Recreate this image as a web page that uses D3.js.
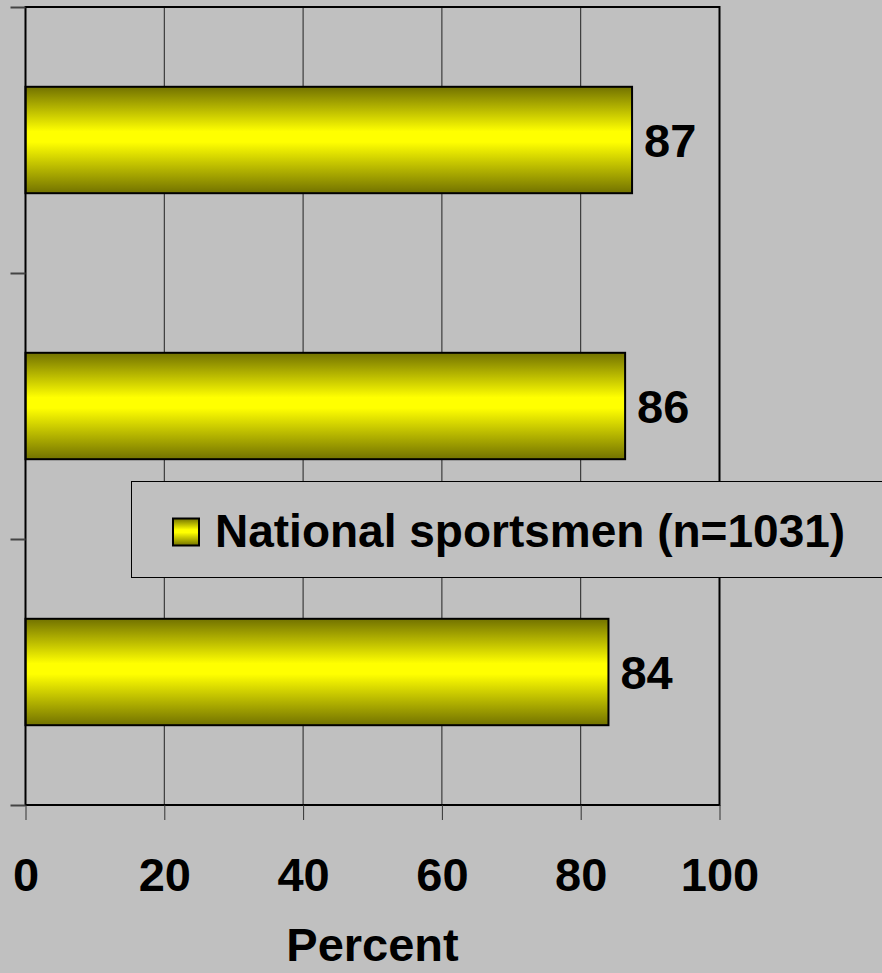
<!DOCTYPE html>
<html>
<head>
<meta charset="utf-8">
<script src="https://cdn.jsdelivr.net/npm/d3@7"></script>
<style>
  body { margin: 0; background: #c0c0c0; }
  svg text { font-family: Arial, "Liberation Sans", sans-serif; font-weight: bold; fill: #000; }
</style>
</head>
<body>
<div id="chart-area"></div>
<script>
// data (top bar first)
var categories = ["Group 1", "Group 2", "Group 3"];
var values = [87.4, 86.4, 84.0];
var xTicks = [0, 20, 40, 60, 80, 100];
var seriesName = "National sportsmen (n=1031)";
var axisTitle = "Percent";

var width = 882;
var height = 973;
var plot = {left: 25.5, right: 719.5, top: 7, bottom: 805};

var svg = d3.select("#chart-area")
	.append("svg")
	.attr("width", width)
	.attr("height", height);

svg.append("rect")
	.attr("width", width)
	.attr("height", height)
	.attr("fill", "#c0c0c0");

// yellow cylinder-ish gradient
var defs = svg.append("defs");
var grad = defs.append("linearGradient")
	.attr("id", "barGrad")
	.attr("x1", 0).attr("y1", 0)
	.attr("x2", 0).attr("y2", 1);
grad.append("stop").attr("offset", "0%").attr("stop-color", "#727200");
grad.append("stop").attr("offset", "42%").attr("stop-color", "#ffff00");
grad.append("stop").attr("offset", "52%").attr("stop-color", "#ffff00");
grad.append("stop").attr("offset", "100%").attr("stop-color", "#727200");

var x = d3.scaleLinear()
	.domain([0, 100])
	.range([plot.left, plot.right]);

var y = d3.scaleBand()
	.domain(categories)
	.range([plot.top, plot.bottom])
	.paddingInner(0.6)
	.paddingOuter(0.3);

// category boundaries for the left ticks
var yEdge = d3.scaleLinear()
	.domain([0, categories.length])
	.range([plot.top, plot.bottom]);

// gridlines
svg.append("g")
	.selectAll("line")
	.data(xTicks.slice(1, -1))
	.enter()
	.append("line")
		.attr("x1", (d) => x(d))
		.attr("x2", (d) => x(d))
		.attr("y1", plot.top)
		.attr("y2", plot.bottom)
		.attr("stroke", "#222")
		.attr("stroke-width", 1);

// bars
svg.append("g")
	.selectAll("rect")
	.data(values)
	.enter()
	.append("rect")
		.attr("x", x(0))
		.attr("y", (d, i) => y(categories[i]))
		.attr("width", (d) => x(d) - x(0))
		.attr("height", y.bandwidth())
		.attr("fill", "url(#barGrad)")
		.attr("stroke", "#000")
		.attr("stroke-width", 2);

// value labels
svg.append("g")
	.selectAll("text")
	.data(values)
	.enter()
	.append("text")
		.attr("x", (d) => x(d) + 12)
		.attr("y", (d, i) => y(categories[i]) + y.bandwidth() / 2 + 17)
		.attr("font-size", "47px")
		.text((d) => d3.format(".0f")(d));

// plot frame
svg.append("rect")
	.attr("x", plot.left)
	.attr("y", plot.top)
	.attr("width", plot.right - plot.left)
	.attr("height", plot.bottom - plot.top)
	.attr("fill", "none")
	.attr("stroke", "#000")
	.attr("stroke-width", 2);

// bottom axis
var xAxis = svg.append("g")
	.attr("transform", "translate(0," + plot.bottom + ")")
	.call(d3.axisBottom(x).tickValues(xTicks).tickSize(15).tickPadding(38));
xAxis.select(".domain").remove();
xAxis.selectAll(".tick line").attr("stroke", "#333");
xAxis.selectAll("text")
	.attr("font-size", "47px")
	.attr("font-family", "Arial, 'Liberation Sans', sans-serif");

// left axis, ticks between categories
var yAxis = svg.append("g")
	.attr("transform", "translate(" + plot.left + ",0)")
	.call(d3.axisLeft(yEdge).ticks(categories.length).tickSize(15).tickFormat(""));
yAxis.select(".domain").remove();
yAxis.selectAll(".tick line").attr("stroke", "#444").attr("stroke-width", 2);

// axis title
svg.append("text")
	.attr("x", (plot.left + plot.right) / 2)
	.attr("y", 961)
	.attr("text-anchor", "middle")
	.attr("font-size", "47px")
	.text(axisTitle);

// legend
var legend = svg.append("g");
legend.append("rect")
	.attr("x", 131.5)
	.attr("y", 481.5)
	.attr("width", 800)
	.attr("height", 96)
	.attr("fill", "#c0c0c0")
	.attr("stroke", "#000")
	.attr("stroke-width", 1);
legend.append("rect")
	.attr("x", 173)
	.attr("y", 518.5)
	.attr("width", 26)
	.attr("height", 27)
	.attr("fill", "url(#barGrad)")
	.attr("stroke", "#000")
	.attr("stroke-width", 2);
legend.append("text")
	.attr("x", 215)
	.attr("y", 547)
	.attr("font-size", "46px")
	.text(seriesName);
</script>
</body>
</html>
